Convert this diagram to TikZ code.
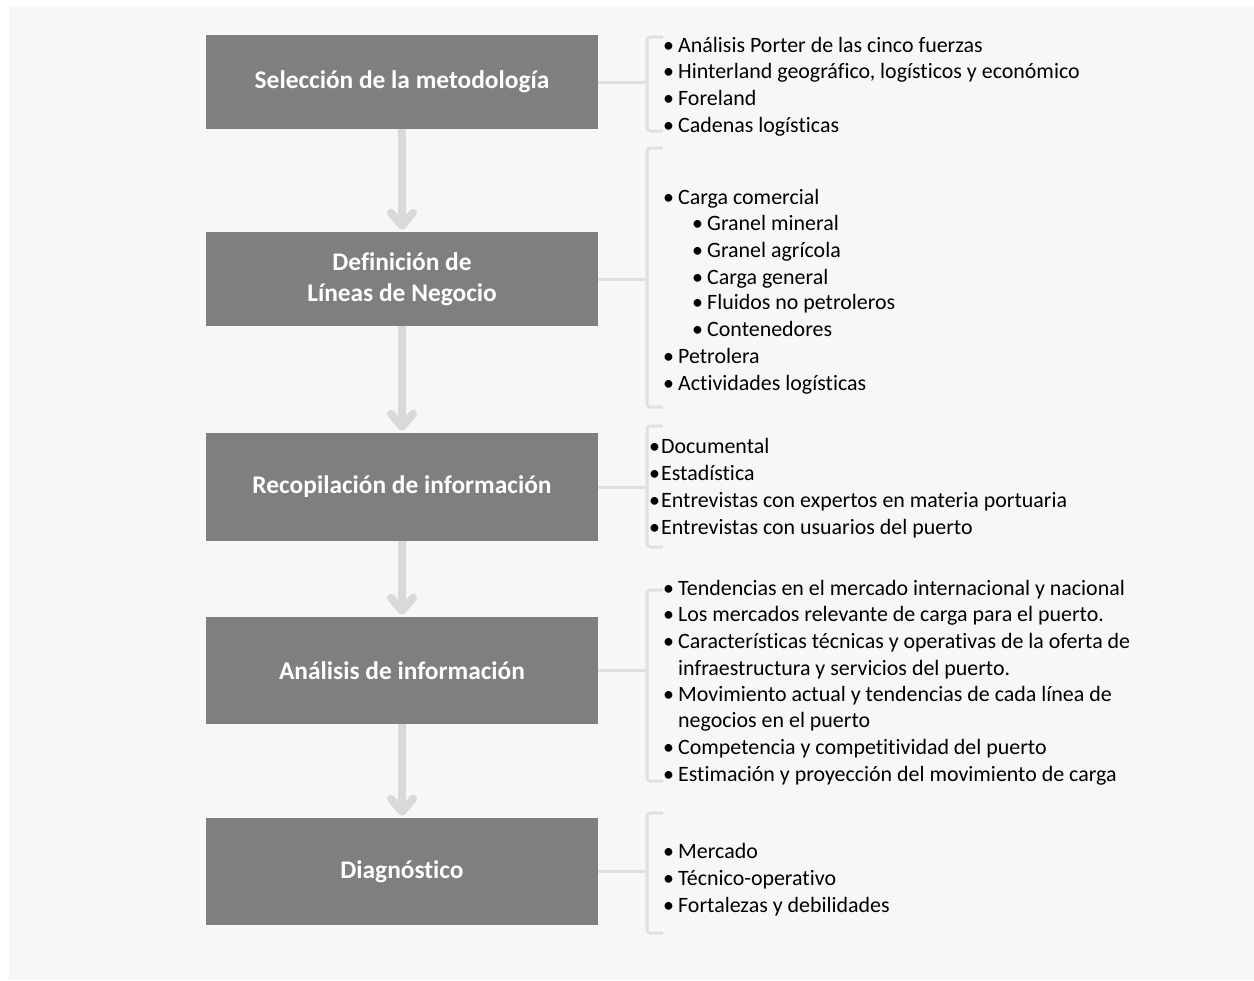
\documentclass[tikz,border=0pt]{standalone}
\usepackage{fontspec}
\setmainfont{Carlito}[RawFeature=-liga]
\usetikzlibrary{arrows.meta,calc}
\definecolor{bg}{HTML}{F7F7F5}
\definecolor{stepgray}{HTML}{7F7F7F}
\definecolor{flowgray}{HTML}{D9D9D9}
\definecolor{brackgray}{HTML}{E0E0E0}
\newcommand\bul{\makebox[15bp][l]{•}}
\newcommand\bulx{\makebox[12bp][l]{•}}
\begin{document}
\begin{tikzpicture}[x=1bp,y=-1bp,
  stepbox/.style={fill=stepgray, draw=none, minimum width=392bp, text=white,
    font=\fontsize{25.5}{31}\selectfont\bfseries, align=center, inner sep=0},
  flow/.style={draw=flowgray, line width=8bp, shorten >=2bp,
    -{Straight Barb[length=13bp,width=22bp,line cap=round,line join=round]}},
  brack/.style={draw=brackgray, line width=3bp, rounded corners=3bp},
  item/.style={anchor=base west, inner sep=0, font=\fontsize{22}{26}\selectfont, text=black},
]
\useasboundingbox (0,0) rectangle (1254,981);
\fill[white] (0,0) rectangle (1254,981);
\fill[bg] (9,6) rectangle (1254,980);

% process steps
\node[stepbox, minimum height=94bp]  (s1) at (402,82)    {Selección de la metodología};
\node[stepbox, minimum height=94bp]  (s2) at (402,279)   {Definición de\\Líneas de Negocio};
\node[stepbox, minimum height=108bp] (s3) at (402,487)   {Recopilación de información};
\node[stepbox, minimum height=107bp] (s4) at (402,670.5) {Análisis de información};
\node[stepbox, minimum height=107bp] (s5) at (402,871.5) {Diagnóstico};

% flow arrows
\draw[flow] (s1.south) -- (s2.north);
\draw[flow] (s2.south) -- (s3.north);
\draw[flow] (s3.south) -- (s4.north);
\draw[flow] (s4.south) -- (s5.north);

% brackets: (top, bottom) of each
\foreach \n/\t/\b in {1/37/131, 2/148/407, 3/426/547, 4/590/781, 5/813/933}{
  \coordinate (t\n) at (663,\t);
  \coordinate (b\n) at (663,\b);
  \coordinate (m\n) at (647,0);
  \draw[brack] (t\n) -- (t\n -| m\n) -- (b\n -| m\n) -- (b\n);
  \draw[brack] (s\n.east) -- (s\n.east -| m\n);
}

% list 1
\node[item] (a1) at (663,52)  {\bul Análisis Porter de las cinco fuerzas};
\node[item] (a2) at (663,78)  {\bul Hinterland geográfico, logísticos y económico};
\node[item] (a3) at (663,105) {\bul Foreland};
\node[item] (a4) at (663,132) {\bul Cadenas logísticas};

% list 2
\node[item] (c1) at (663,204) {\bul Carga comercial};
\node[item] (c2) at (692,230) {\bul Granel mineral};
\node[item] (c3) at (692,257) {\bul Granel agrícola};
\node[item] (c4) at (692,284) {\bul Carga general};
\node[item] (c5) at (692,309) {\bul Fluidos no petroleros};
\node[item] (c6) at (692,336) {\bul Contenedores};
\node[item] (c7) at (663,363) {\bul Petrolera};
\node[item] (c8) at (663,390) {\bul Actividades logísticas};

% list 3
\node[item] (r1) at (649,453) {\bulx Documental};
\node[item] (r2) at (649,480) {\bulx Estadística};
\node[item] (r3) at (649,507) {\bulx Entrevistas con expertos en materia portuaria};
\node[item] (r4) at (649,534) {\bulx Entrevistas con usuarios del puerto};

% list 4
\node[item] (n1) at (663,595) {\bul Tendencias en el mercado internacional y nacional};
\node[item] (n2) at (663,621) {\bul Los mercados relevante de carga para el puerto.};
\node[item] (n3) at (663,648) {\bul Características técnicas y operativas de la oferta de};
\node[item] (n4) at (678,675) {infraestructura y servicios del puerto.};
\node[item] (n5) at (663,701) {\bul Movimiento actual y tendencias de cada línea de};
\node[item] (n6) at (678,727) {negocios en el puerto};
\node[item] (n7) at (663,754) {\bul Competencia y competitividad del puerto};
\node[item] (n8) at (663,781) {\bul Estimación y proyección del movimiento de carga};

% list 5
\node[item] (d1) at (663,858) {\bul Mercado};
\node[item] (d2) at (663,885) {\bul Técnico-operativo};
\node[item] (d3) at (663,912) {\bul Fortalezas y debilidades};
\end{tikzpicture}
\end{document}
